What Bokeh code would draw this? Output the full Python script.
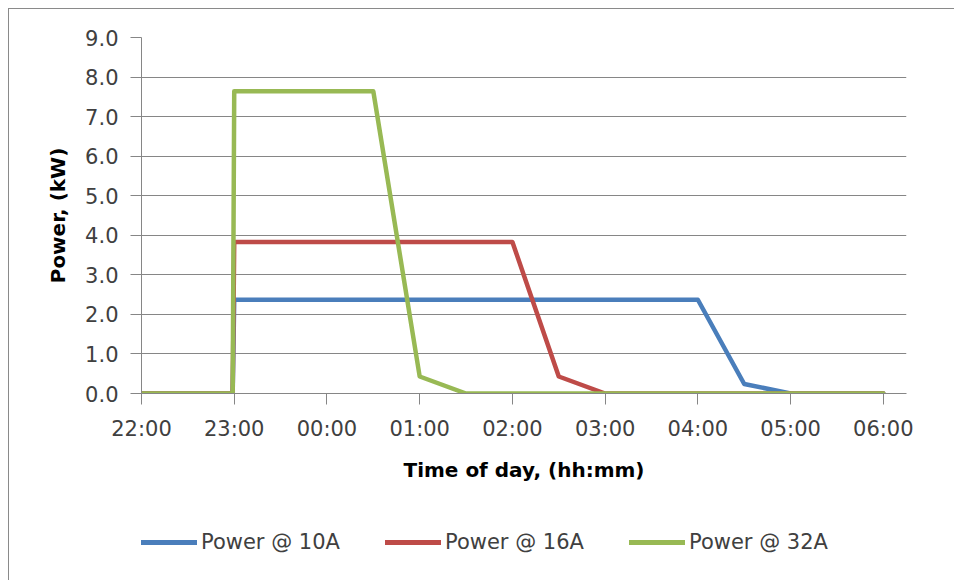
from bokeh.plotting import figure
from bokeh.layouts import column
from bokeh.models import Legend, LegendItem, Range1d, FixedTicker, PrintfTickFormatter
from bokeh.embed import file_html
from bokeh.resources import INLINE

# ---- data ----
series_names = ["Power @ 10A", "Power @ 16A", "Power @ 32A"]
series_colors = ["#4A7EBB", "#BE4B48", "#98B954"]

times_10a = ["22:00", "22:59", "23:00", "04:00", "04:30", "05:00", "06:00"]
power_10a = [0.0, 0.0, 2.37, 2.37, 0.24, 0.0, 0.0]

times_16a = ["22:00", "22:59", "23:00", "02:00", "02:30", "03:00", "06:00"]
power_16a = [0.0, 0.0, 3.83, 3.83, 0.43, 0.0, 0.0]

times_32a = ["22:00", "22:59", "23:00", "00:30", "01:00", "01:30", "06:00"]
power_32a = [0.0, 0.0, 7.64, 7.64, 0.43, 0.0, 0.0]

x_tick_labels = ["22:00", "23:00", "00:00", "01:00", "02:00", "03:00", "04:00", "05:00", "06:00"]
x_axis_start = "22:00"
x_axis_end = "06:15"
y_ticks = [0, 1, 2, 3, 4, 5, 6, 7, 8, 9]

x_title = "Time of day, (hh:mm)"
y_title = "Power, (kW)"


def hours_since_start(s):
    h, m = (int(v) for v in s.split(":"))
    sh, sm = (int(v) for v in x_axis_start.split(":"))
    d = h + m / 60.0 - (sh + sm / 60.0)
    if d < 0:
        d += 24.0
    return d


FONT = "DejaVu Sans"
W = 945

p = figure(
    width=W, height=500,
    output_backend="svg", toolbar_location=None,
    x_range=Range1d(0, hours_since_start(x_axis_end)),
    y_range=Range1d(min(y_ticks), max(y_ticks)),
    min_border_left=128, min_border_right=48, min_border_top=28, min_border_bottom=116,
)
p.outline_line_color = None
p.background_fill_color = "white"
p.border_fill_color = "white"

# grid
p.xgrid.grid_line_color = None
p.ygrid.grid_line_color = "#868686"
p.ygrid.grid_line_width = 1
p.ygrid.ticker = FixedTicker(ticks=y_ticks)

# axes
tick_pos = [hours_since_start(t) for t in x_tick_labels]
p.xaxis.ticker = FixedTicker(ticks=tick_pos)
p.xaxis.major_label_overrides = {tp: lab for tp, lab in zip(tick_pos, x_tick_labels)}
p.yaxis.ticker = FixedTicker(ticks=y_ticks)
p.yaxis.formatter = PrintfTickFormatter(format="%.1f")

for ax in (p.xaxis[0], p.yaxis[0]):
    ax.axis_line_color = "#868686"
    ax.axis_line_width = 1
    ax.major_tick_line_color = "#868686"
    ax.major_tick_in = 0
    ax.major_tick_out = 11
    ax.minor_tick_line_color = None
    ax.major_label_text_font = FONT
    ax.major_label_text_font_size = "21px"
    ax.major_label_text_color = "#404040"
    ax.axis_label_text_font = FONT
    ax.axis_label_text_font_size = "20px"
    ax.axis_label_text_font_style = "bold"
    ax.axis_label_text_color = "#000000"

p.xaxis.axis_label = x_title
p.yaxis.axis_label = y_title
p.xaxis.major_label_standoff = 12
p.xaxis.axis_label_standoff = 14
p.yaxis.major_label_standoff = 12
p.yaxis.axis_label_standoff = 12

# lines
for times, vals, color in [(times_10a, power_10a, series_colors[0]),
                           (times_16a, power_16a, series_colors[1]),
                           (times_32a, power_32a, series_colors[2])]:
    xs = [hours_since_start(t) for t in times]
    p.line(xs, vals, line_color=color, line_width=4.5, line_join="round", line_cap="round")

# ---- legend strip below the chart ----
q = figure(
    width=W, height=71,
    output_backend="svg", toolbar_location=None,
    x_range=Range1d(0, 1), y_range=Range1d(0, 1),
    x_axis_location=None, y_axis_location=None,
    min_border_left=132, min_border_right=0, min_border_top=21, min_border_bottom=0,
)
q.outline_line_color = None
q.xgrid.grid_line_color = None
q.ygrid.grid_line_color = None
q.border_fill_color = "white"
q.background_fill_color = "white"

legend_renderers = []
for color in series_colors:
    legend_renderers.append(
        q.line([0, 1], [-5, -5], line_color=color, line_width=5, line_cap="round")
    )

legend = Legend(
    items=[LegendItem(label=n, renderers=[r]) for n, r in zip(series_names, legend_renderers)],
    orientation="horizontal",
    location="top_left",
)
legend.padding = 0
legend.margin = 0
legend.border_line_color = None
legend.background_fill_alpha = 0
legend.glyph_width = 56
legend.glyph_height = 20
legend.label_standoff = 4
legend.label_width = 180
legend.spacing = 4
legend.label_text_font = FONT
legend.label_text_font_size = "21px"
legend.label_text_color = "#404040"
q.add_layout(legend, "center")

layout = column(p, q, spacing=0)
layout.styles = {"margin-left": "8px", "margin-top": "8px",
                 "border-left": "1px solid #8a8a8a", "border-top": "1px solid #8a8a8a"}

open("out.html", "w").write(file_html(layout, INLINE))
